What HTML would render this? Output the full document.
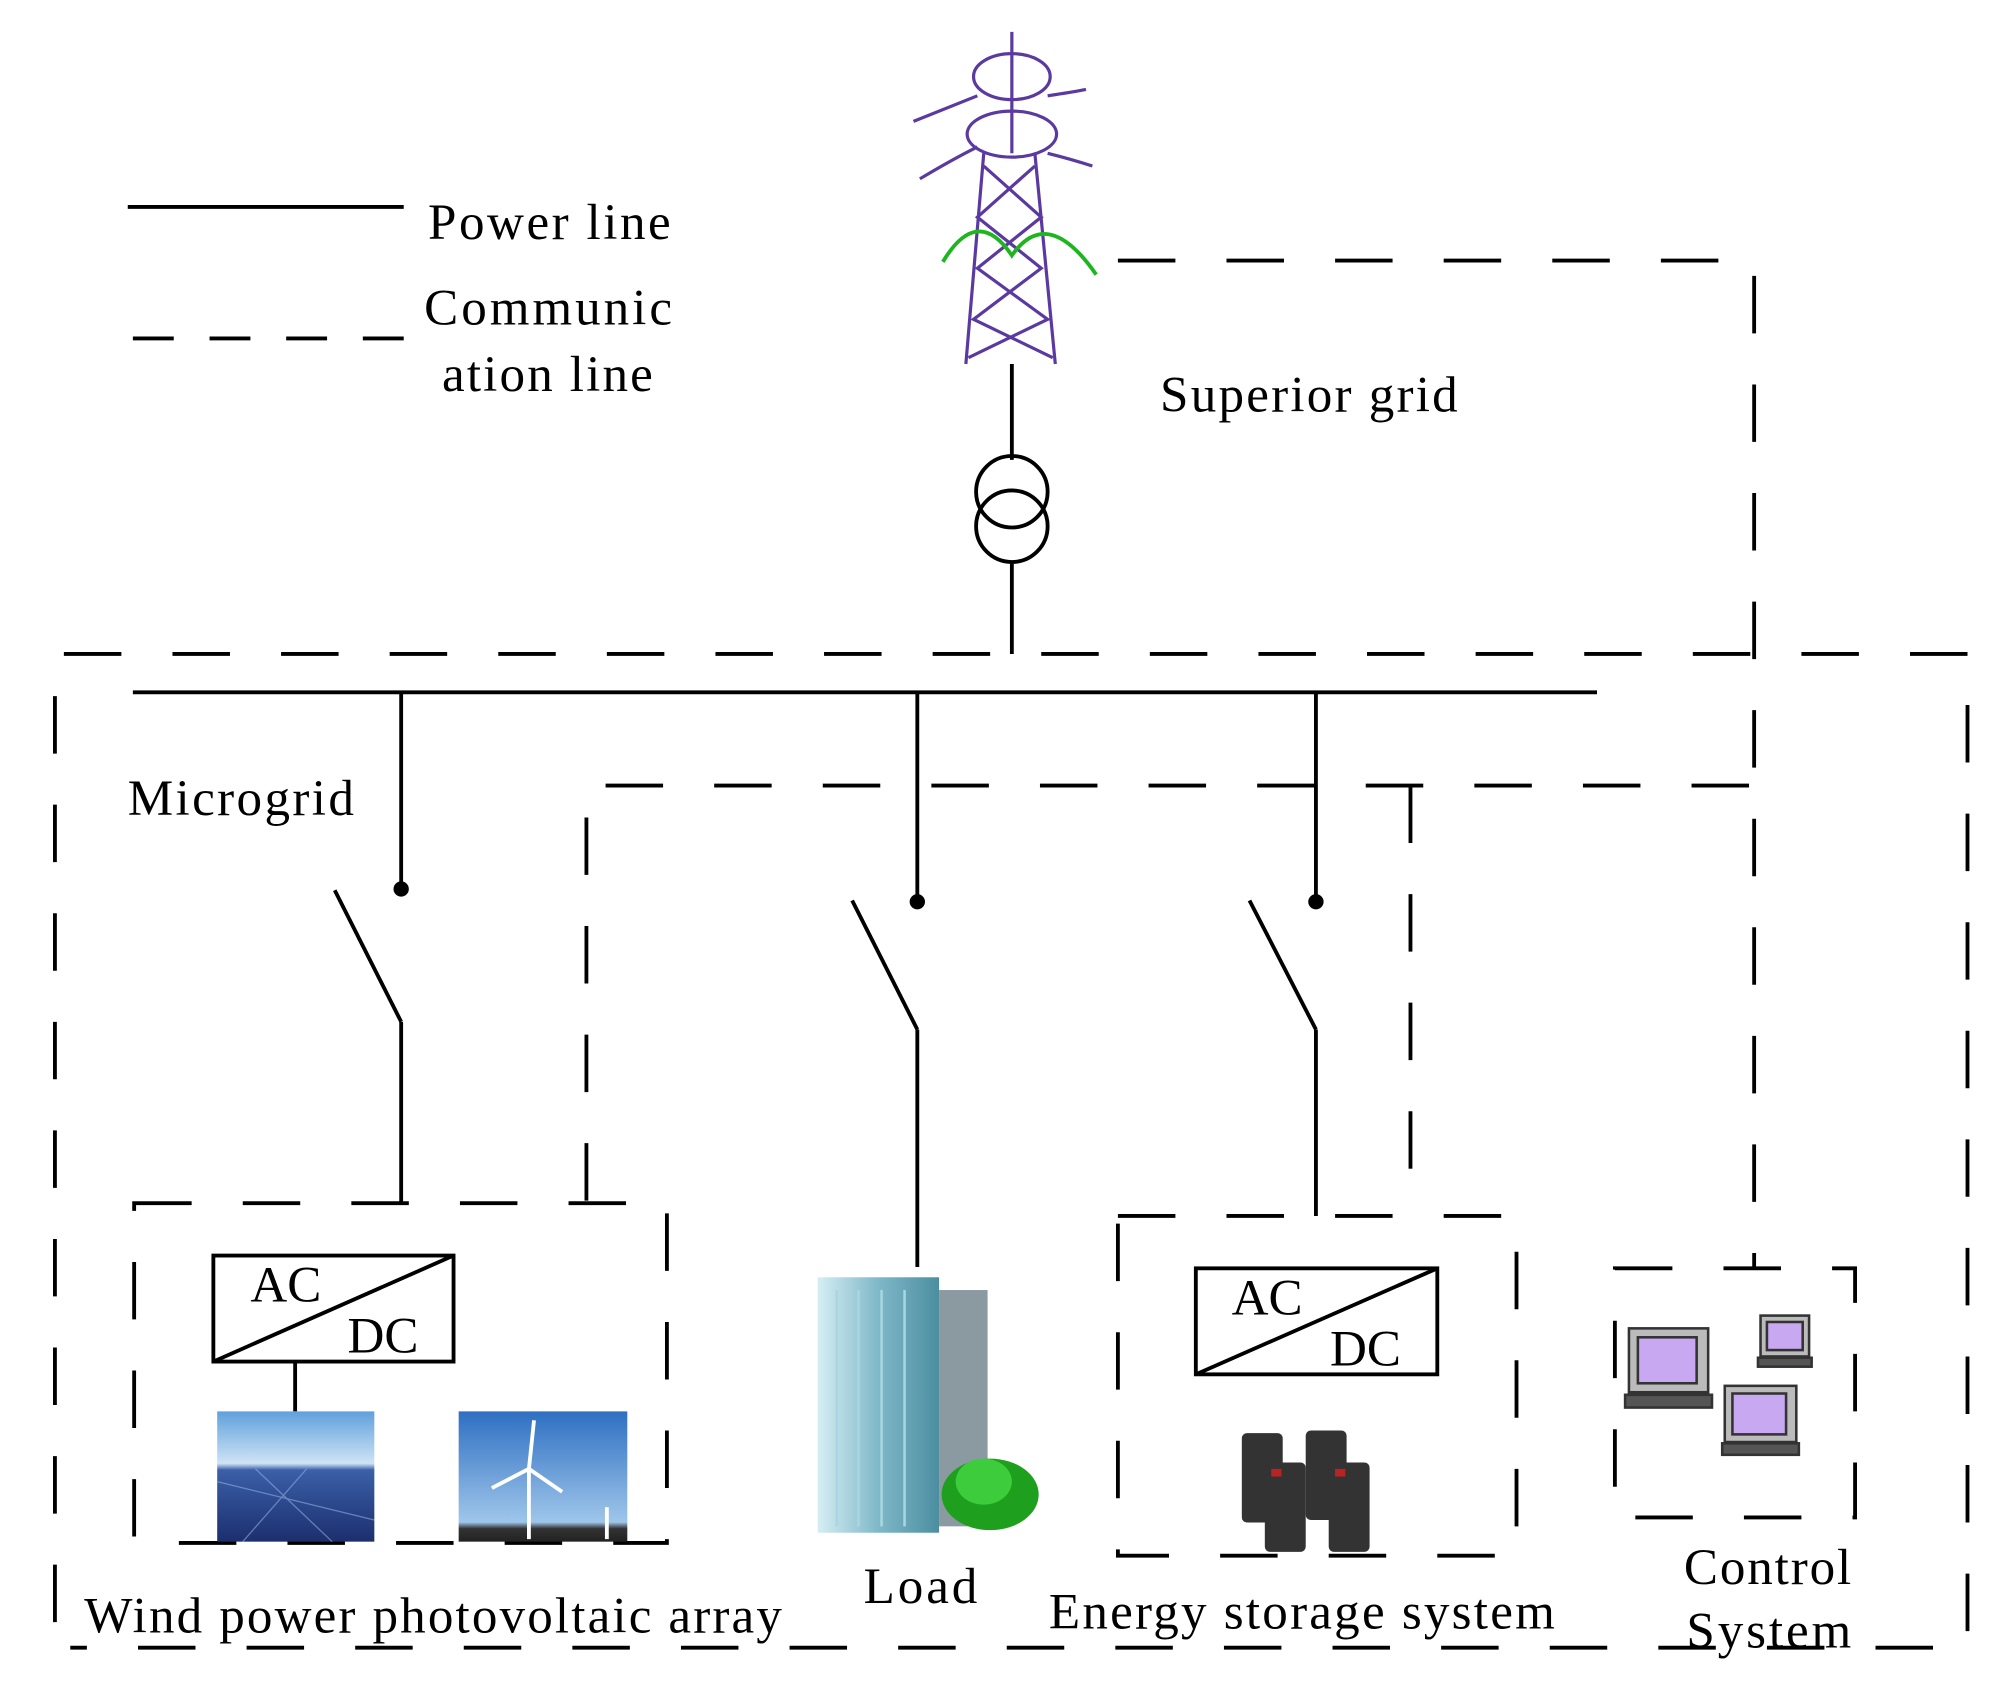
<!DOCTYPE html>
<html><head><meta charset="utf-8"><style>html,body{margin:0;padding:0;background:#fff}svg{display:block}</style></head><body>
<svg width="2002" height="1686" viewBox="0 0 1567 1320" preserveAspectRatio="none" xmlns="http://www.w3.org/2000/svg" font-family="Liberation Serif, serif" font-size="40">
<defs>
<linearGradient id="sky" x1="0" y1="0" x2="0" y2="1"><stop offset="0" stop-color="#5fa0dc"/><stop offset="0.4" stop-color="#cfe3f5"/><stop offset="0.45" stop-color="#3b5fa8"/><stop offset="1" stop-color="#1c2f6e"/></linearGradient>
<linearGradient id="sky2" x1="0" y1="0" x2="0" y2="1"><stop offset="0" stop-color="#2e6fc2"/><stop offset="0.85" stop-color="#9fc6ea"/><stop offset="0.9" stop-color="#333"/><stop offset="1" stop-color="#222"/></linearGradient>
<linearGradient id="bld" x1="0" y1="0" x2="1" y2="0"><stop offset="0" stop-color="#d6eef3"/><stop offset="0.5" stop-color="#7fb8c8"/><stop offset="1" stop-color="#4b8ea0"/></linearGradient>
</defs>
<g stroke="#000" stroke-width="3" fill="none">
<line x1="100" y1="162" x2="316" y2="162"/>
<line x1="104" y1="265" x2="316" y2="265" stroke-dasharray="32,28"/>
<line x1="792" y1="285" x2="792" y2="360"/>
<circle cx="792" cy="385" r="28"/><circle cx="792" cy="412" r="28"/>
<line x1="792" y1="440" x2="792" y2="512"/>
<line x1="104" y1="542" x2="1250" y2="542"/>
<line x1="314" y1="542" x2="314" y2="696"/><line x1="262" y1="697" x2="314" y2="800"/><line x1="314" y1="800" x2="314" y2="942"/>
<line x1="718" y1="542" x2="718" y2="706"/><line x1="667" y1="705" x2="718" y2="806"/><line x1="718" y1="806" x2="718" y2="992"/>
<line x1="1030" y1="542" x2="1030" y2="706"/><line x1="978" y1="705" x2="1030" y2="806"/><line x1="1030" y1="806" x2="1030" y2="952"/>
<rect x="167" y="983" width="188" height="83"/><line x1="167" y1="1066" x2="355" y2="983"/><line x1="231" y1="1066" x2="231" y2="1105"/>
<rect x="936" y="993" width="189" height="83"/><line x1="936" y1="1076" x2="1125" y2="993"/>
</g>
<g fill="#000"><circle cx="314" cy="696" r="6"/><circle cx="718" cy="706" r="6"/><circle cx="1030" cy="706" r="6"/></g>
<g stroke="#000" stroke-width="3" fill="none" stroke-dasharray="45,40">
<polyline points="875,204 1373,204 1373,992"/>
<polyline points="43,1270 43,512 1540,512 1540,1290 55,1290"/>
<polyline points="459,940 459,615 1373,615"/>
<line x1="1104" y1="615" x2="1104" y2="950"/>
<rect x="105" y="942" width="417" height="266"/>
<rect x="875" y="952" width="312" height="266"/>
<rect x="1264" y="993" width="188" height="195"/>
</g>
<g stroke="#5a3aa0" stroke-width="2.5" fill="none">
<line x1="770" y1="120" x2="756" y2="285"/><line x1="810" y1="120" x2="826" y2="285"/>
<path d="M770 130 L815 170 L765 210 L820 250 L758 280 M810 130 L765 170 L815 210 L762 250 L824 280"/>
<ellipse cx="792" cy="60" rx="30" ry="18"/><ellipse cx="792" cy="105" rx="35" ry="18"/>
<line x1="792" y1="25" x2="792" y2="120"/>
<path d="M715 95 Q740 85 765 75 M720 140 Q745 125 765 115 M820 75 Q840 72 850 70 M820 120 Q840 125 855 130"/>
</g>
<path d="M738 205 Q765 160 792 200 Q820 160 858 215" stroke="#1fb51f" stroke-width="3" fill="none"/>
<rect x="170" y="1105" width="123" height="102" fill="url(#sky)"/>
<g stroke="#8fb0e0" stroke-width="1" opacity="0.6"><line x1="170" y1="1160" x2="293" y2="1190"/><line x1="200" y1="1150" x2="260" y2="1207"/><line x1="240" y1="1150" x2="190" y2="1207"/></g>
<rect x="359" y="1105" width="132" height="102" fill="url(#sky2)"/>
<g stroke="#fff" stroke-width="3"><line x1="414" y1="1150" x2="414" y2="1205"/><line x1="414" y1="1150" x2="418" y2="1112"/><line x1="414" y1="1150" x2="385" y2="1165"/><line x1="414" y1="1150" x2="440" y2="1168"/><line x1="475" y1="1180" x2="475" y2="1205"/></g>
<rect x="640" y="1000" width="95" height="200" fill="url(#bld)"/>
<rect x="735" y="1010" width="38" height="185" fill="#8a9aa0"/>
<g stroke="#a8d7e2" stroke-width="2"><line x1="655" y1="1010" x2="655" y2="1195"/><line x1="672" y1="1010" x2="672" y2="1195"/><line x1="690" y1="1010" x2="690" y2="1195"/><line x1="708" y1="1010" x2="708" y2="1195"/></g>
<ellipse cx="775" cy="1170" rx="38" ry="28" fill="#1ea01e"/><ellipse cx="770" cy="1160" rx="22" ry="18" fill="#3ccc3c"/>
<g fill="#333"><rect x="972" y="1122" width="32" height="70" rx="4"/><rect x="1022" y="1120" width="32" height="70" rx="4"/><rect x="990" y="1145" width="32" height="70" rx="4"/><rect x="1040" y="1145" width="32" height="70" rx="4"/></g>
<g fill="#b22"><rect x="995" y="1150" width="8" height="6"/><rect x="1045" y="1150" width="8" height="6"/></g>
<g stroke="#333" stroke-width="2">
<rect x="1275" y="1040" width="62" height="50" fill="#bbb"/><rect x="1282" y="1047" width="46" height="36" fill="#c8a8f0"/><rect x="1272" y="1092" width="68" height="10" fill="#555"/>
<rect x="1378" y="1030" width="38" height="32" fill="#bbb"/><rect x="1383" y="1035" width="28" height="22" fill="#c8a8f0"/><rect x="1376" y="1063" width="42" height="7" fill="#555"/>
<rect x="1350" y="1085" width="56" height="44" fill="#bbb"/><rect x="1356" y="1091" width="42" height="32" fill="#c8a8f0"/><rect x="1348" y="1130" width="60" height="9" fill="#555"/>
</g>
<g fill="#000">
<text x="335" y="187" textLength="190">Power line</text>
<text x="332" y="254" textLength="194">Communic</text>
<text x="346" y="306" textLength="165">ation line</text>
<text x="908" y="322" textLength="233">Superior grid</text>
<text x="100" y="638" textLength="177">Microgrid</text>
<text x="196" y="1019">AC</text><text x="272" y="1059">DC</text>
<text x="964" y="1029">AC</text><text x="1041" y="1069">DC</text>
<text x="66" y="1278" textLength="546">Wind power photovoltaic array</text>
<text x="676" y="1255" textLength="89">Load</text>
<text x="821" y="1275" textLength="396">Energy storage system</text>
<text x="1318" y="1240" textLength="131">Control</text>
<text x="1320" y="1290" textLength="129">System</text>
</g>
</svg>
</body></html>
